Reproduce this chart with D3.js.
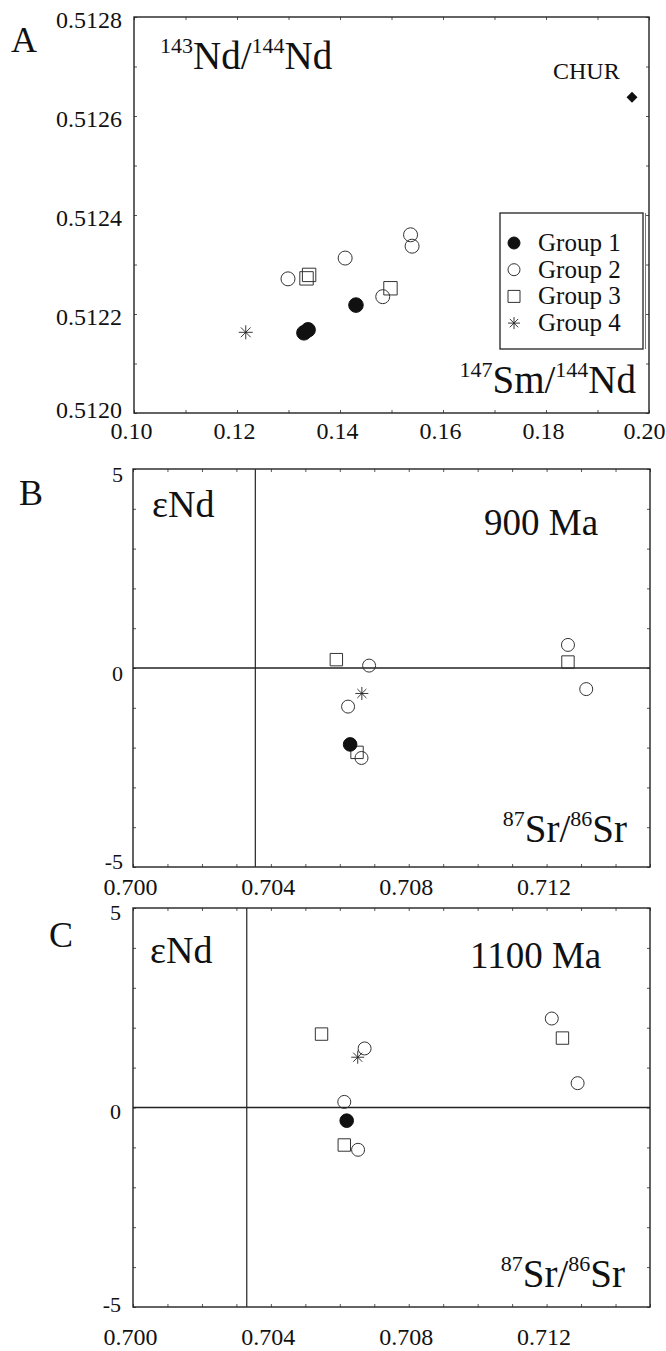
<!DOCTYPE html>
<html>
<head>
<meta charset="utf-8">
<script src="https://cdn.jsdelivr.net/npm/d3@7"></script>
<style>
body { margin: 0; background: #fff; }
svg text { font-family: "Liberation Serif", "Times New Roman", serif; fill: #111; }
</style>
</head>
<body>
<svg id="chart" width="666" height="1351"></svg>
<script>
// panel A : 147Sm/144Nd vs 143Nd/144Nd
var smndGroup1 = [[0.1330, 0.512162], [0.1338, 0.512168], [0.1431, 0.512218]];
var smndGroup2 = [[0.1299, 0.512271], [0.1410, 0.512313], [0.1483, 0.512235], [0.1537, 0.512360], [0.1540, 0.512337]];
var smndGroup3 = [[0.1335, 0.512272], [0.1340, 0.512279], [0.1498, 0.512252]];
var smndGroup4 = [[0.1217, 0.512163]];
var chur = [[0.1967, 0.512638]];
var smndXLabels = [0.10, 0.12, 0.14, 0.16, 0.18, 0.20];
var smndYLabels = [0.5120, 0.5122, 0.5124, 0.5126, 0.5128];

// panel B : eNd vs 87Sr/86Sr at 900 Ma
var sr900Group1 = [[0.7063, -1.92]];
var sr900Group2 = [[0.70685, 0.06], [0.70624, -0.97], [0.70663, -2.26], [0.71262, 0.58], [0.71315, -0.53]];
var sr900Group3 = [[0.7059, 0.21], [0.7065, -2.12], [0.71262, 0.15]];
var sr900Group4 = [[0.70664, -0.64]];
var bulkEarth900 = 0.70355;

// panel C : eNd vs 87Sr/86Sr at 1100 Ma
var sr1100Group1 = [[0.7062, -0.33]];
var sr1100Group2 = [[0.70672, 1.48], [0.70613, 0.14], [0.70653, -1.06], [0.71215, 2.23], [0.71290, 0.61]];
var sr1100Group3 = [[0.70547, 1.84], [0.70613, -0.94], [0.71246, 1.74]];
var sr1100Group4 = [[0.70652, 1.26]];
var bulkEarth1100 = 0.7033;

var srXLabels = [0.700, 0.704, 0.708, 0.712];
var endYLabels = [-5, 0, 5];
var groupNames = ["Group 1", "Group 2", "Group 3", "Group 4"];

var serif = '"Liberation Serif", "Times New Roman", serif';
var svg = d3.select("#chart");

function drawMarks(g, x, y, pts, kind, r) {
  var sel = g.selectAll(null).data(pts).enter().append("g")
    .attr("transform", function(d){ return "translate(" + x(d[0]) + "," + y(d[1]) + ")"; });
  addSymbol(sel, kind, r);
}

function addSymbol(sel, kind, r) {
  if (kind == "filled") {
    sel.append("path").attr("d", d3.symbol(d3.symbolCircle, Math.PI*r*r)).style("fill", "#111").style("stroke", "#111");
  } else if (kind == "circle") {
    sel.append("path").attr("d", d3.symbol(d3.symbolCircle, Math.PI*r*r)).style("fill", "none").style("stroke", "#333").style("stroke-width", 1);
  } else if (kind == "square") {
    sel.append("path").attr("d", d3.symbol(d3.symbolSquare, 4*r*r)).style("fill", "none").style("stroke", "#333").style("stroke-width", 1);
  } else if (kind == "star") {
    // plus + times = 8 rays
    sel.append("path").attr("d", d3.symbol(d3.symbolPlus, Math.pow(r/0.87559, 2) + 2)).style("fill", "none").style("stroke", "#222").style("stroke-width", 0.9);
    sel.append("path").attr("d", d3.symbol(d3.symbolTimes, Math.pow(0.7*r/0.6189, 2) + 1.7)).style("fill", "none").style("stroke", "#222").style("stroke-width", 0.9);
  } else if (kind == "diamond") {
    sel.append("path").attr("d", d3.symbol(d3.symbolSquare, 2*r*r)).attr("transform", "rotate(45)").style("fill", "#111");
  }
}

// text with superscripts, parts = [[text, isSup], ...]
function isoLabel(g, px, py, parts, size, supSize, anchor) {
  var t = g.append("text").attr("x", px).attr("y", py).attr("text-anchor", anchor || "start").style("font-family", serif);
  var up = false;
  parts.forEach(function(p){
    var dy = 0;
    if (p[1] && !up) { dy = -size*0.4; up = true; }
    else if (!p[1] && up) { dy = size*0.4; up = false; }
    t.append("tspan").attr("dy", dy).style("font-size", (p[1] ? supSize : size) + "px").text(p[0]);
  });
  return t;
}

function plainText(g, px, py, txt, size) {
  return g.append("text").attr("x", px).attr("y", py).text(txt)
    .style("font-family", serif).style("font-size", size + "px");
}

function drawPanel(o) {
  var g = svg.append("g");
  var x = d3.scaleLinear().domain(o.xDomain).range([o.left, o.right]);
  var y = d3.scaleLinear().domain(o.yDomain).range([o.bottom, o.top]);

  // small inward ticks on all four sides
  var xMinor = x.ticks(o.xMinorCount), yMinor = y.ticks(o.yMinorCount);
  function minor(sel) {
    sel.select(".domain").remove();
    sel.selectAll("line").style("stroke", "#555");
  }
  g.append("g").attr("transform", "translate(0," + o.bottom + ")").call(d3.axisBottom(x).tickValues(xMinor).tickSize(-3).tickFormat("")).call(minor);
  g.append("g").attr("transform", "translate(0," + o.top + ")").call(d3.axisTop(x).tickValues(xMinor).tickSize(-3).tickFormat("")).call(minor);
  g.append("g").attr("transform", "translate(" + o.left + ",0)").call(d3.axisLeft(y).tickValues(yMinor).tickSize(-3).tickFormat("")).call(minor);
  g.append("g").attr("transform", "translate(" + o.right + ",0)").call(d3.axisRight(y).tickValues(yMinor).tickSize(-3).tickFormat("")).call(minor);

  // tick labels
  var lastX = o.xLabels[o.xLabels.length - 1];
  var xl = g.append("g").attr("transform", "translate(0," + o.bottom + ")")
    .call(d3.axisBottom(x).tickValues(o.xLabels).tickSize(0).tickFormat(o.xFormat));
  xl.attr("font-family", null);
  xl.select(".domain").remove();
  xl.selectAll("text").attr("y", o.xLabelY).attr("dy", null).attr("dx", -3)
    .style("font-family", serif).style("font-size", o.xFont + "px");
  // last label would run off the page edge
  xl.selectAll(".tick").filter(function(d){ return d == lastX && x(d) > 600; })
    .select("text").attr("text-anchor", "end").attr("dx", 665 - o.right);

  var yl = g.append("g").attr("transform", "translate(" + o.left + ",0)")
    .call(d3.axisLeft(y).tickValues(o.yLabels).tickSize(0).tickPadding(o.yPad).tickFormat(o.yFormat));
  yl.attr("font-family", null);
  yl.select(".domain").remove();
  var lowY = o.yLabels[0];
  yl.selectAll("text").attr("y", function(d){ return d == lowY ? o.lowShift : o.yShift; })
    .style("font-family", serif).style("font-size", o.yFont + "px");

  // frame
  g.append("rect")
    .attr("x", o.left).attr("y", o.top)
    .attr("width", o.right - o.left).attr("height", o.bottom - o.top)
    .style("fill", "none").style("stroke", "#222").style("stroke-width", 1.4);

  // reference lines (bulk earth)
  if (o.bulkEarth) {
    g.append("line").attr("x1", x(o.bulkEarth)).attr("x2", x(o.bulkEarth)).attr("y1", o.top).attr("y2", o.bottom)
      .style("stroke", "#333").style("stroke-width", 1.3);
    g.append("line").attr("x1", o.left).attr("x2", o.right).attr("y1", y(0)).attr("y2", y(0))
      .style("stroke", "#222").style("stroke-width", 1.5);
  }

  // panel letter
  plainText(g, o.letterX, o.letterY, o.letter, 36);

  var r = o.markR;
  drawMarks(g, x, y, o.groups[1], "circle", r);
  drawMarks(g, x, y, o.groups[2], "square", r - 0.3);
  drawMarks(g, x, y, o.groups[3], "star", r);
  drawMarks(g, x, y, o.groups[0], "filled", r + 0.3);
  return {g: g, x: x, y: y};
}

function endFormat(d) { return String(d); }

// ---- panel A
var pa = drawPanel({
  left: 134, right: 649, top: 17, bottom: 413,
  xDomain: [0.10, 0.20], yDomain: [0.5120, 0.5128],
  xMinorCount: 10, yMinorCount: 8,
  xLabels: smndXLabels, yLabels: smndYLabels,
  xFormat: d3.format(".2f"), yFormat: d3.format(".4f"),
  xLabelY: 26, xFont: 24, yPad: 12, yShift: 3, lowShift: -3, yFont: 24,
  letter: "A", letterX: 11, letterY: 52,
  markR: 7,
  groups: [smndGroup1, smndGroup2, smndGroup3, smndGroup4]
});
drawMarks(pa.g, pa.x, pa.y, chur, "diamond", 5.5);
plainText(pa.g, 553, 79, "CHUR", 24);
isoLabel(pa.g, 160, 69, [["143", true], ["Nd/", false], ["144", true], ["Nd", false]], 39, 22);
isoLabel(pa.g, 636, 393, [["147", true], ["Sm/", false], ["144", true], ["Nd", false]], 39, 22, "end");

// legend
var legend = pa.g.append("g");
legend.append("rect").attr("x", 500).attr("y", 213).attr("width", 143).attr("height", 136)
  .style("fill", "#fff").style("stroke", "#222").style("stroke-width", 1.3);
legend.append("line").attr("x1", 645.5).attr("x2", 645.5).attr("y1", 213).attr("y2", 349)
  .style("stroke", "#777").style("stroke-width", 1);
var legendKinds = ["filled", "circle", "square", "star"];
var items = legend.selectAll("g.item")
  .data(groupNames)
  .enter()
  .append("g")
    .attr("class", "item")
    .attr("transform", function(d,i){ return "translate(514," + (243 + i*26.7) + ")"; });
items.each(function(d,i){ addSymbol(d3.select(this), legendKinds[i], 6); });
items.append("text")
  .attr("x", 24)
  .attr("y", 8)
  .text(function(d){ return d; })
  .style("font-family", serif)
  .style("font-size", "25px");

// ---- panel B
var pb = drawPanel({
  left: 133, right: 650, top: 469, bottom: 867,
  xDomain: [0.700, 0.715], yDomain: [-5, 5],
  xMinorCount: 15, yMinorCount: 10,
  xLabels: srXLabels, yLabels: endYLabels,
  xFormat: d3.format(".3f"), yFormat: endFormat,
  xLabelY: 28, xFont: 24, yPad: 10, yShift: 5, lowShift: -6, yFont: 22,
  letter: "B", letterX: 19, letterY: 505,
  markR: 6.5, bulkEarth: bulkEarth900,
  groups: [sr900Group1, sr900Group2, sr900Group3, sr900Group4]
});
plainText(pb.g, 152, 517, "εNd", 38);
plainText(pb.g, 484, 535, "900 Ma", 37);
isoLabel(pb.g, 627, 842, [["87", true], ["Sr/", false], ["86", true], ["Sr", false]], 39, 22, "end");

// ---- panel C
var pc = drawPanel({
  left: 133, right: 650, top: 908, bottom: 1307,
  xDomain: [0.700, 0.715], yDomain: [-5, 5],
  xMinorCount: 15, yMinorCount: 10,
  xLabels: srXLabels, yLabels: endYLabels,
  xFormat: d3.format(".3f"), yFormat: endFormat,
  xLabelY: 38, xFont: 24, yPad: 12, yShift: 4, lowShift: -3, yFont: 22,
  letter: "C", letterX: 49, letterY: 947,
  markR: 6.5, bulkEarth: bulkEarth1100,
  groups: [sr1100Group1, sr1100Group2, sr1100Group3, sr1100Group4]
});
plainText(pc.g, 150, 963, "εNd", 38);
plainText(pc.g, 470, 968, "1100 Ma", 37);
isoLabel(pc.g, 625, 1287, [["87", true], ["Sr/", false], ["86", true], ["Sr", false]], 39, 22, "end");
</script>
</body>
</html>
